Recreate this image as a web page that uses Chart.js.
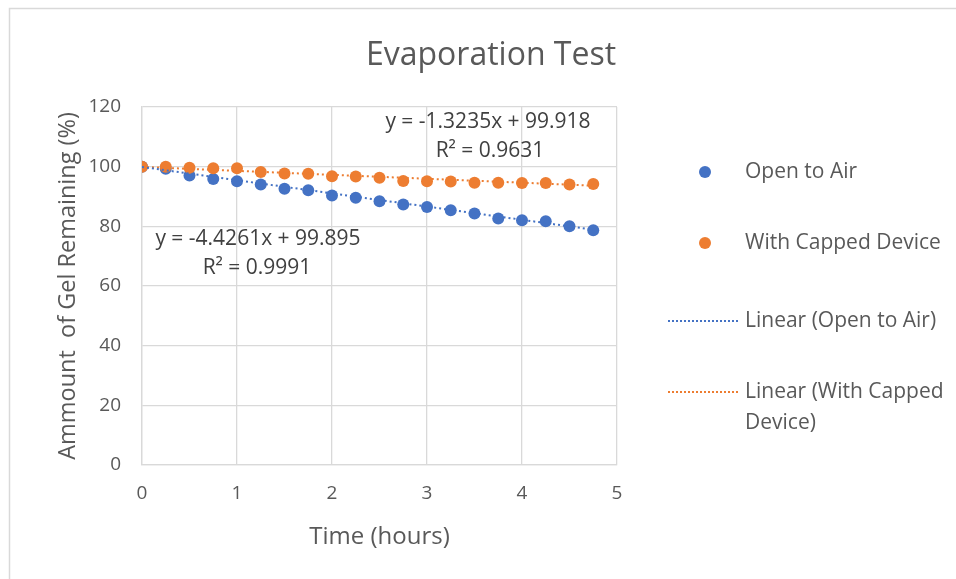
<!DOCTYPE html>
<html>
<head>
<meta charset="utf-8">
<script src="https://cdn.jsdelivr.net/npm/chart.js@4"></script>
<style>
  html, body { margin: 0; padding: 0; background: #fff; }
  #wrap { position: relative; width: 956px; height: 579px; }
</style>
</head>
<body>
<div id="wrap"><canvas id="c" width="956" height="579"></canvas></div>
<script>
const chartTitle = "Evaporation Test";
const xAxisTitle = "Time (hours)";
const yAxisTitle = "Ammount  of Gel Remaining (%)";
const hours = [0, 0.25, 0.5, 0.75, 1, 1.25, 1.5, 1.75, 2, 2.25, 2.5, 2.75, 3, 3.25, 3.5, 3.75, 4, 4.25, 4.5, 4.75];
const openToAir = [100, 99.3, 97.0, 95.9, 95.1, 94.0, 92.6, 92.1, 90.3, 89.6, 88.4, 87.3, 86.5, 85.4, 84.3, 82.6, 82.0, 81.7, 80.0, 78.7];
const cappedDevice = [100, 100, 99.6, 99.5, 99.5, 98.2, 97.7, 97.6, 96.8, 96.7, 96.3, 95.2, 95.1, 95.0, 94.6, 94.6, 94.5, 94.5, 94.0, 94.2];
const openFit = { slope: -4.4261, intercept: 99.895, r2: "0.9991" };
const cappedFit = { slope: -1.3235, intercept: 99.918, r2: "0.9631" };
const seriesNames = ["Open to Air", "With Capped Device"];
const xTicks = [0, 1, 2, 3, 4, 5];
const yTicks = [0, 20, 40, 60, 80, 100, 120];

const BLUE = "#4472C4", ORANGE = "#ED7D31", TXT = "#595959", GRID = "#d9d9d9";
const FONT = "'Open Sans', sans-serif";

const toPts = (xs, ys) => xs.map((x, i) => ({ x: x, y: ys[i] }));
const trend = (fit) => {
  const x0 = hours[0], x1 = hours[hours.length - 1];
  return [{ x: x0, y: fit.slope * x0 + fit.intercept }, { x: x1, y: fit.slope * x1 + fit.intercept }];
};
const fmtEq = (fit) => "y = " + fit.slope + "x + " + fit.intercept;

const decor = {
  id: "decor",
  beforeDraw(chart) {
    const ctx = chart.ctx;
    ctx.save();
    ctx.fillStyle = "#fff";
    ctx.fillRect(0, 0, chart.width, chart.height);
    ctx.strokeStyle = "#d9d9d9";
    ctx.lineWidth = 1.5;
    ctx.beginPath();
    ctx.moveTo(9.5, chart.height);
    ctx.lineTo(9.5, 8.5);
    ctx.lineTo(chart.width, 8.5);
    ctx.stroke();
    ctx.restore();
  },
  afterDraw(chart) {
    const ctx = chart.ctx;
    ctx.save();
    // title
    ctx.fillStyle = TXT;
    ctx.font = "32px " + FONT;
    ctx.textAlign = "center";
    ctx.textBaseline = "middle";
    ctx.fillText(chartTitle, 491, 56);
    // equations
    ctx.font = "21px " + FONT;
    ctx.fillStyle = "#404040";
    ctx.fillText(fmtEq(cappedFit), 488, 122);
    ctx.fillText("R\u00b2 = " + cappedFit.r2, 490, 151);
    ctx.fillText(fmtEq(openFit), 258, 239);
    ctx.fillText("R\u00b2 = " + openFit.r2, 257, 268);
    // legend
    ctx.font = "21px " + FONT;
    ctx.fillStyle = TXT;
    ctx.textAlign = "left";
    const items = [
      { type: "pt", color: BLUE, label: [seriesNames[0]], y: 172 },
      { type: "pt", color: ORANGE, label: [seriesNames[1]], y: 243 },
      { type: "ln", color: BLUE, label: ["Linear (" + seriesNames[0] + ")"], y: 321 },
      { type: "ln", color: ORANGE, label: ["Linear (With Capped", "Device)"], y: 392 }
    ];
    items.forEach(it => {
      if (it.type === "pt") {
        ctx.fillStyle = it.color;
        ctx.beginPath();
        ctx.arc(705, it.y, 6, 0, Math.PI * 2);
        ctx.fill();
      } else {
        ctx.strokeStyle = it.color;
        ctx.lineWidth = 2;
        ctx.setLineDash([2, 2]);
        ctx.beginPath();
        ctx.moveTo(668, it.y);
        ctx.lineTo(739, it.y);
        ctx.stroke();
        ctx.setLineDash([]);
      }
      ctx.fillStyle = TXT;
      it.label.forEach((t, k) => ctx.fillText(t, 745, it.y + k * 31));
    });
    ctx.restore();
  }
};

new Chart(document.getElementById("c"), {
  type: "scatter",
  data: {
    datasets: [
      { label: "Linear (" + seriesNames[0] + ")", type: "line", data: trend(openFit), borderColor: BLUE, borderWidth: 2, borderDash: [2, 3], pointRadius: 0, fill: false, order: 1 },
      { label: "Linear (" + seriesNames[1] + ")", type: "line", data: trend(cappedFit), borderColor: ORANGE, borderWidth: 2, borderDash: [2, 3], pointRadius: 0, fill: false, order: 1 },
      { label: seriesNames[0], data: toPts(hours, openToAir), backgroundColor: BLUE, borderColor: BLUE, pointRadius: 6, pointBorderWidth: 0, order: 3 },
      { label: seriesNames[1], data: toPts(hours, cappedDevice), backgroundColor: ORANGE, borderColor: ORANGE, pointRadius: 6, pointBorderWidth: 0, order: 2 }
    ]
  },
  options: {
    responsive: false,
    animation: false,
    layout: { padding: { left: 50, top: 107, right: 339, bottom: 23 } },
    plugins: { legend: { display: false }, title: { display: false }, tooltip: { enabled: false } },
    scales: {
      x: {
        type: "linear", min: 0, max: 5,
        afterBuildTicks: s => { s.ticks = xTicks.map(v => ({ value: v })); },
        afterFit: s => { s.height = 91; },
        grid: { color: GRID, lineWidth: 1.3, drawTicks: false },
        border: { color: GRID, width: 1.3 },
        ticks: { color: TXT, font: { family: FONT, size: 19 }, padding: 17 },
        title: { display: true, text: xAxisTitle, color: TXT, font: { family: FONT, size: 24 } }
      },
      y: {
        type: "linear", min: 0, max: 120,
        afterBuildTicks: s => { s.ticks = yTicks.map(v => ({ value: v })); },
        afterFit: s => { s.width = 92; },
        grid: { color: GRID, lineWidth: 1.3, drawTicks: false },
        border: { color: GRID, width: 1.3 },
        ticks: { color: TXT, font: { family: FONT, size: 19 }, padding: 21 },
        title: { display: true, text: yAxisTitle, color: TXT, font: { family: FONT, size: 23.5 } }
      }
    }
  },
  plugins: [decor]
});
</script>
</body>
</html>
